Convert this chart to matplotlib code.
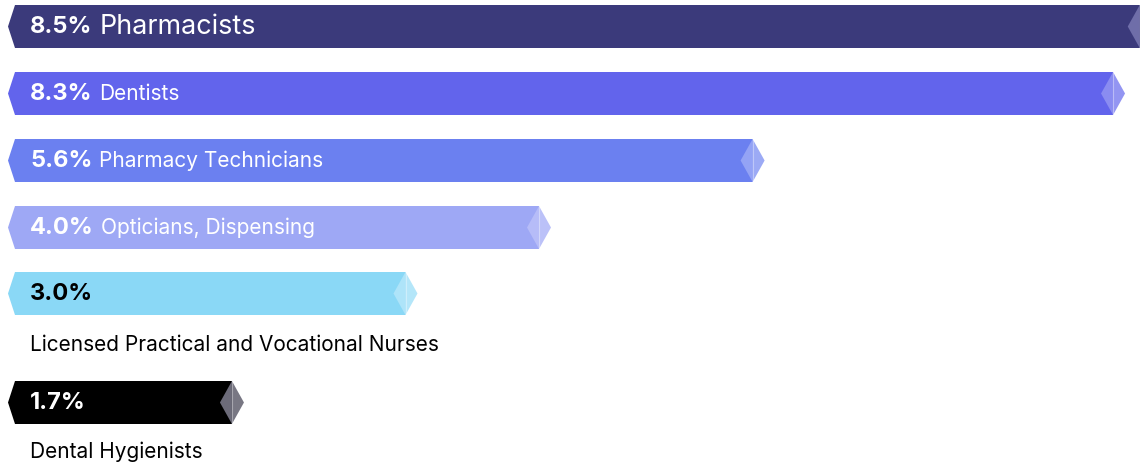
import matplotlib.pyplot as plt
from matplotlib.patches import Polygon

# data
pcts = [8.5, 8.3, 5.6, 4.0, 3.0, 1.7]
labels = ['Pharmacists', 'Dentists', 'Pharmacy Technicians',
          'Opticians, Dispensing', 'Licensed Practical and Vocational Nurses',
          'Dental Hygienists']
bar_colors = ['#3b3a7b', '#6264ec', '#6b80f0', '#9ea8f5', '#8ad8f6', '#000000']
tip_colors = ['#6f6ea9', '#8a8cf1', '#94a3f5', '#b6bcf8', '#aee4f9', '#6c6b79']
pct_colors = ['white', 'white', 'white', 'white', 'black', 'white']
text_inside = [True, True, True, True, False, False]

# layout (pixel rows)
row_y = [26.5, 93.5, 160.5, 227.5, 293.5, 402.5]
below_y = [None, None, None, None, 345, 452]
bar_h = 43
ppu = 133.5           # pixels per percent point
x0_px = 5
tip_w = 12

W, H = 1140, 466
fig = plt.figure(figsize=(W / 100, H / 100), dpi=100)
ax = fig.add_axes([0, 0, 1, 1])
ax.set_xlim(-x0_px / ppu, (W - x0_px) / ppu)
ax.set_ylim(H, 0)
ax.axis('off')

def px(p):
    return p / ppu

plt.rcParams['font.family'] = ['Inter', 'DejaVu Sans']
fs_bold = 17
label_fs = [19.4, 15.0, 15.0, 15.0, 15.0, 15.0]

for i, v in enumerate(pcts):
    yc = row_y[i]
    top, bot = yc - bar_h / 2, yc + bar_h / 2
    left_tip = px(8 - x0_px)
    left_corner = px(15 - x0_px)
    body = Polygon([(left_tip, yc), (left_corner, top), (v, top), (v, bot), (left_corner, bot)],
                   closed=True, facecolor=bar_colors[i], edgecolor='none')
    ax.add_patch(body)
    # diamond tip
    lh = Polygon([(v - px(tip_w), yc), (v, top), (v, bot)], closed=True,
                 facecolor=tip_colors[i], edgecolor='none')
    rh = Polygon([(v + px(tip_w), yc), (v, top), (v, bot)], closed=True,
                 facecolor=tip_colors[i], edgecolor='none', alpha=0.92)
    ax.add_patch(lh)
    ax.add_patch(rh)
    ax.plot([v, v], [top, bot], color='white', lw=0.8, alpha=0.35)

    t1 = ax.text(px(30 - x0_px), yc + 0.5, '{:.1f}%'.format(v), color=pct_colors[i],
                 fontsize=fs_bold, fontweight='bold', va='center', ha='left')
    if text_inside[i]:
        ax.annotate(labels[i], xy=(1, 0.5), xycoords=t1, xytext=(5, 0),
                    textcoords='offset points', color='white', fontsize=label_fs[i],
                    va='center', ha='left')
    else:
        ax.text(px(30 - x0_px), below_y[i], labels[i], color='black', fontsize=label_fs[i],
                va='center', ha='left')

fig.savefig('out.png', dpi=100)
